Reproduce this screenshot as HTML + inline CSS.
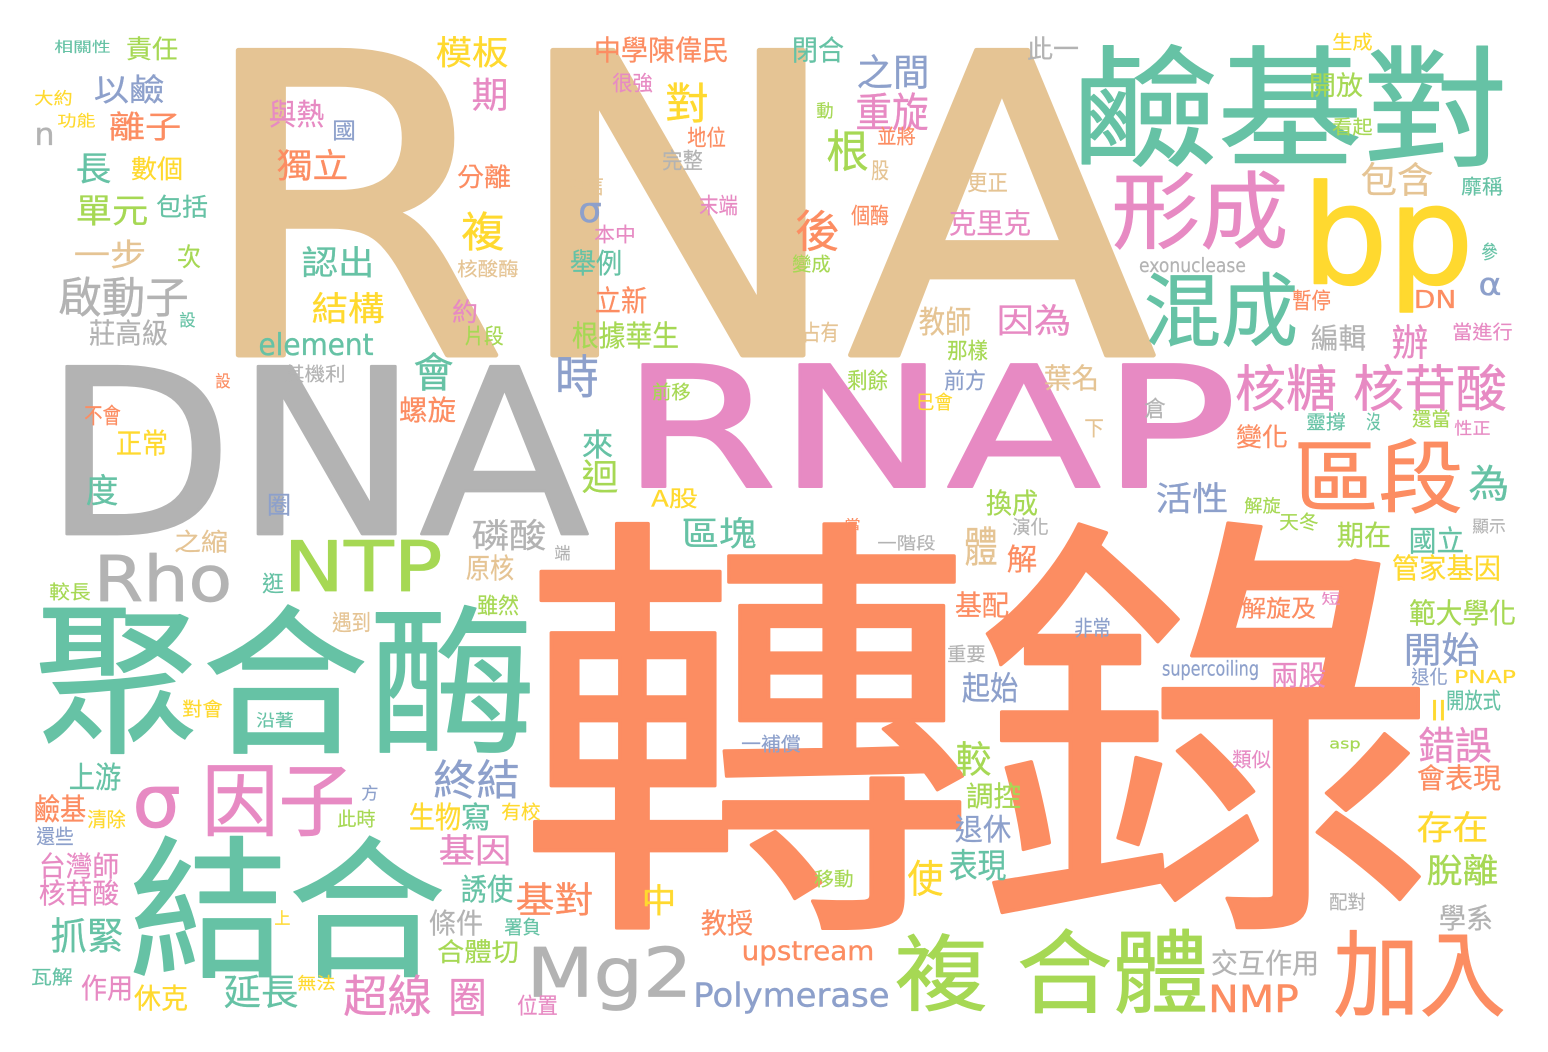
<!DOCTYPE html>
<html><head><meta charset="utf-8">
<style>
html,body{margin:0;padding:0;background:#fff;}
svg{display:block;}
text{font-family:"DejaVu Sans","Liberation Sans","Noto Sans CJK TC",sans-serif;stroke-linejoin:round;stroke-linecap:round;}
text.c{font-family:"Noto Sans CJK TC","WenQuanYi Zen Hei",sans-serif;}
</style></head>
<body>
<svg id="cloud" width="1548" height="1052" viewBox="0 0 1548 1052" xmlns="http://www.w3.org/2000/svg">
<rect width="1548" height="1052" fill="#ffffff"/>
</svg>
<script>
const G="#66c2a5",O="#fc8d62",B="#8da0cb",P="#e78ac3",L="#a6d854",Y="#ffd92f",T="#e5c494",R="#b3b3b3";
// [text, x, top, width, height, color, kind]
const words = [
["RNA",215,50,921,305,T,"L"],
["DNA",54,366,524,168,R,"L"],
["RNAP",629,364,600,123,P,"L"],
["轉錄",535,528,885,395,O,"c"],
["聚合酶",40,607,490,145,G,"c"],
["結合",135,838,305,138,G,"c"],
["鹼基對",1077,47,426,118,G,"c"],
["形成",1115,172,170,76,P,"c"],
["bp",1309,179,158,136,Y,"d"],
["混成",1147,273,148,72,G,"c"],
["區段",1297,440,163,72,O,"c"],
["複",898,935,87,75,L,"c"],
["合體",1020,930,185,82,L,"c"],
["加入",1337,930,165,85,O,"c"],
["因子",205,763,147,72,P,"c"],
["σ",136,787,41,40,P,"x"],
["Rho",97,555,132,46,R,"L"],
["NTP",287,540,152,51,L,"L"],
["Mg2",530,945,159,67,R,"d"],
["相關性",55,40,55,13,G,"c"],
["責任",127,37,50,23,L,"c"],
["以鹼",95,75,68,28,B,"c"],
["大約",35,90,37,15,Y,"c"],
["功能",58,113,37,14,Y,"c"],
["n",36,128,17,17,R,"x"],
["離子",110,112,70,28,O,"c"],
["長",77,153,33,30,G,"c"],
["數個",132,157,50,23,Y,"c"],
["單元",77,195,70,30,L,"c"],
["包括",157,195,50,22,G,"c"],
["一步",75,240,70,28,T,"c"],
["次",178,245,22,23,L,"c"],
["啟動子",60,277,127,39,R,"c"],
["莊高級",90,320,77,25,R,"c"],
["設",180,312,15,15,G,"c"],
["模板",437,37,70,30,Y,"c"],
["期",473,78,34,32,P,"c"],
["與熱",270,100,53,27,P,"c"],
["國",333,120,22,20,B,"c"],
["獨立",278,150,69,30,O,"c"],
["分離",458,165,52,23,O,"c"],
["複",463,212,40,38,Y,"c"],
["核酸酶",458,260,60,17,T,"c"],
["認出",303,247,70,30,G,"c"],
["結構",313,293,70,30,Y,"c"],
["約",453,300,24,23,P,"c"],
["片段",465,326,38,19,L,"c"],
["element",260,333,112,22,G,"L"],
["中學陳偉民",595,37,133,25,O,"c"],
["閉合",793,37,50,25,G,"c"],
["此一",1028,37,50,23,R,"c"],
["很強",613,73,39,19,P,"c"],
["對",667,83,40,39,Y,"c"],
["之間",858,55,70,33,B,"c"],
["動",817,102,16,16,L,"c"],
["重旋",857,93,70,37,P,"c"],
["地位",688,127,37,20,O,"c"],
["根",828,130,39,40,L,"c"],
["並將",878,127,37,18,O,"c"],
["完整",663,150,39,20,R,"c"],
["股",872,160,16,20,T,"c"],
["相信",568,175,35,20,T,"c"],
["更正",968,172,39,20,T,"c"],
["σ",580,203,20,19,B,"x"],
["末端",700,195,37,20,P,"c"],
["本中",595,225,40,18,P,"c"],
["後",797,210,41,40,O,"c"],
["個酶",852,205,36,20,O,"c"],
["克里克",950,210,80,25,P,"c"],
["舉例",571,250,50,25,G,"c"],
["變成",793,255,37,17,L,"c"],
["立新",596,287,50,26,O,"c"],
["根據華生",573,322,105,26,L,"c"],
["占有",803,322,35,20,T,"c"],
["教師",920,307,50,28,T,"c"],
["因為",998,305,72,30,P,"c"],
["那樣",948,340,39,20,L,"c"],
["時",557,355,40,42,B,"c"],
["剩餘",848,370,39,20,L,"c"],
["前方",945,370,40,20,B,"c"],
["前移",653,383,37,17,L,"c"],
["巳會",917,393,35,17,Y,"c"],
["葉名",1045,365,53,25,T,"c"],
["生成",1333,33,39,17,Y,"c"],
["開放",1310,73,52,24,L,"c"],
["看起",1333,118,39,17,L,"c"],
["包含",1362,163,70,32,T,"c"],
["靡稱",1462,177,40,18,G,"c"],
["參",1482,243,15,17,G,"c"],
["exonuclease",1140,258,105,14,R,"L"],
["暫停",1293,290,37,20,O,"c"],
["DN",1415,290,40,18,O,"L"],
["α",1480,278,20,17,B,"x"],
["編輯",1312,325,53,25,R,"c"],
["辦",1393,325,34,33,P,"c"],
["當進行",1453,323,59,17,P,"c"],
["核糖",1237,365,98,45,P,"c"],
["核苷酸",1355,365,150,45,P,"c"],
["倉",1145,398,20,20,R,"c"],
["下",1085,418,18,19,T,"c"],
["變化",1237,425,50,23,O,"c"],
["靈撐",1307,413,38,17,G,"c"],
["沒",1367,413,13,17,G,"c"],
["還當",1413,410,37,17,L,"c"],
["性正",1455,420,35,15,P,"c"],
["為",1470,465,38,35,G,"c"],
["活性",1157,483,70,30,B,"c"],
["換成",987,490,50,25,L,"c"],
["解旋",1245,497,35,16,L,"c"],
["天冬",1280,513,38,17,L,"c"],
["顯示",1473,518,32,15,R,"c"],
["演化",1013,518,35,17,R,"c"],
["一階段",878,535,57,15,R,"c"],
["體",966,527,30,38,T,"c"],
["期在",1338,522,52,25,L,"c"],
["國立",1410,527,53,26,G,"c"],
["解",1008,545,28,27,O,"c"],
["管家基因",1393,555,107,25,Y,"c"],
["基配",956,592,52,25,O,"c"],
["解旋及",1242,597,73,21,O,"c"],
["短",1322,592,18,13,P,"c"],
["範大學化",1410,600,105,25,L,"c"],
["非常",1075,618,35,19,B,"c"],
["重要",948,645,37,17,R,"c"],
["開始",1405,633,73,32,B,"c"],
["supercoiling",1163,660,95,20,B,"d"],
["兩股",1272,662,53,25,P,"c"],
["退化",1412,668,35,17,B,"c"],
["PNAP",1455,670,60,13,Y,"L"],
["起始",963,673,54,29,B,"c"],
["開放式",1447,690,53,20,G,"c"],
["II",1432,700,13,20,Y,"L"],
["一補償",742,735,58,17,B,"c"],
["類似",1233,750,37,18,P,"c"],
["asp",1330,738,30,14,L,"d"],
["錯誤",1420,727,70,35,P,"c"],
["較",957,742,33,33,L,"c"],
["會表現",1418,765,82,25,O,"c"],
["調控",967,783,53,25,L,"c"],
["存在",1418,812,69,30,Y,"c"],
["退休",956,815,54,27,B,"c"],
["表現",950,850,55,30,G,"c"],
["脫離",1428,855,69,30,L,"c"],
["使",909,860,33,35,Y,"c"],
["配對",1330,893,35,17,R,"c"],
["學系",1440,905,52,25,R,"c"],
["交互作用",1212,950,106,25,R,"c"],
["NMP",1210,985,87,27,O,"L"],
["之縮",175,530,52,22,T,"c"],
["磷酸",473,520,72,30,R,"c"],
["原核",467,555,46,25,T,"c"],
["端",555,545,15,15,R,"c"],
["區塊",683,518,72,30,G,"c"],
["當",845,518,15,12,O,"c"],
["逛",263,573,20,20,G,"c"],
["較長",50,583,40,17,L,"c"],
["雖然",478,595,40,20,L,"c"],
["遇到",333,612,37,20,T,"c"],
["對會",183,700,39,17,Y,"c"],
["沿著",257,712,36,15,G,"c"],
["上游",70,763,50,27,G,"c"],
["方",362,785,16,15,B,"c"],
["此時",338,810,37,17,L,"c"],
["鹼基",35,795,50,27,O,"c"],
["清除",88,810,37,18,Y,"c"],
["還些",37,827,36,18,B,"c"],
["終結",435,760,83,38,B,"c"],
["生物",410,803,50,27,Y,"c"],
["寫",462,803,28,27,G,"c"],
["有校",502,803,38,17,Y,"c"],
["台灣師",40,853,78,25,P,"c"],
["核苷酸",40,880,78,25,P,"c"],
["基因",440,835,70,30,P,"c"],
["誘使",462,875,50,27,G,"c"],
["基對",517,883,75,32,O,"c"],
["中",643,885,32,30,Y,"c"],
["上",275,910,15,15,Y,"c"],
["抓緊",52,918,70,34,G,"c"],
["條件",430,910,52,25,R,"c"],
["署負",505,918,35,17,G,"c"],
["教授",702,910,50,25,O,"c"],
["移動",815,870,38,17,L,"c"],
["合體切",438,940,80,23,L,"c"],
["upstream",743,940,130,26,O,"d"],
["Polymerase",695,981,193,33,B,"d"],
["瓦解",32,968,40,17,G,"c"],
["作用",82,975,50,25,P,"c"],
["休克",135,985,52,25,Y,"c"],
["延長",225,975,72,32,G,"c"],
["無法",298,975,37,15,Y,"c"],
["超線",345,975,85,40,P,"c"],
["圈",450,978,35,37,P,"c"],
["位置",518,995,39,20,P,"c"],
["設",216,373,14,15,O,"c"],
["不會",85,405,35,20,O,"c"],
["正常",117,430,50,25,Y,"c"],
["度",87,475,30,30,G,"c"],
["其機利",285,365,60,17,R,"c"],
["螺旋",400,397,55,25,O,"c"],
["會",415,353,37,37,G,"c"],
["圈",268,493,22,22,B,"c"],
["來",583,430,29,28,G,"c"],
["迴",583,460,34,32,L,"c"],
["A股",652,488,45,20,Y,"c"]
];
const svg=document.getElementById('cloud');
const NS="http://www.w3.org/2000/svg";
words.forEach(function(w,i){
  const txt=w[0],x=w[1],top=w[2],wd=w[3],h=w[4],col=w[5],k=w[6];
  let S,base,x0,len,sw;
  if(k==="c"){S=h/0.9;base=top+0.83*S;x0=x-0.04*S;len=wd+0.08*S;sw=0.008*S;}
  else if(k==="L"){S=h/0.73;base=top+h;x0=x-0.05*S;len=wd+0.1*S;sw=0.012*S;}
  else if(k==="d"){S=h/0.99;base=top+0.76*S;x0=x-0.05*S;len=wd+0.1*S;sw=0.012*S;}
  else {S=h/0.55;base=top+h;x0=x-0.05*S;len=wd+0.1*S;sw=0.012*S;}
  const t=document.createElementNS(NS,'text');
  
  
  if(k==="c")t.setAttribute('class','c');
  t.setAttribute('x',x0.toFixed(1));
  t.setAttribute('y',base.toFixed(1));
  t.setAttribute('font-size',S.toFixed(1));
  t.setAttribute('fill',col);
  t.setAttribute('stroke',col);
  t.setAttribute('stroke-width',sw.toFixed(2));
  t.setAttribute('textLength',len.toFixed(1));
  t.setAttribute('lengthAdjust','spacingAndGlyphs');
  t.textContent=txt;
  svg.appendChild(t);
});
</script>
</body></html>
